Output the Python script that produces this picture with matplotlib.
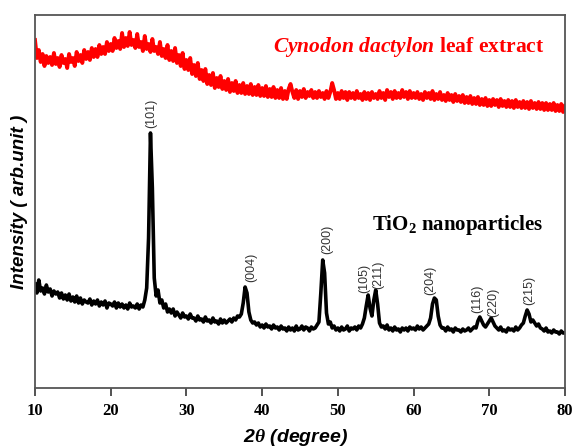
import numpy as np
import matplotlib
matplotlib.use("Agg")
import matplotlib.pyplot as plt

plt.rcParams['mathtext.fontset'] = 'custom'
plt.rcParams['mathtext.rm'] = 'Liberation Serif'
plt.rcParams['mathtext.it'] = 'Liberation Serif:italic:bold'
plt.rcParams['mathtext.bf'] = 'Liberation Serif:bold'

# 2-theta grid, 10..80 deg in 0.25 deg steps
two_theta = np.arange(10.0, 80.0001, 0.25)

# TiO2 nanoparticles (black) intensity, arb. units
tio2 = [
    104, 95, 108, 97,   100, 94, 103, 96,   99, 92, 97, 94,   96, 90, 95, 89,
    93, 88, 94, 87,     91, 86, 92, 85,     90, 84, 88, 86,   85, 89, 83, 87,
    84, 88, 82, 86,     83, 87, 80, 85,     84, 82, 86, 80,   85, 81, 84, 80,
    83, 79, 85, 81,     82, 80, 84, 79,     83, 81, 88, 100,  150, 255, 200, 110,
    92, 98, 85, 88,     80, 84, 76, 79,     75, 79, 72, 76,   73, 70, 75, 71,
    72, 69, 74, 70,     70, 67, 72, 68,     69, 66, 71, 67,   68, 65, 70, 66,
    67, 64, 69, 65,     68, 65, 67, 69,     66, 70, 68, 72,   71, 74, 85, 101,
    95, 76, 68, 65,     66, 63, 65, 61,     63, 60, 64, 61,   62, 59, 63, 60,
    61, 58, 62, 59,     60, 57, 61, 58,     60, 57, 62, 58,   59, 62, 58, 61,
    60, 57, 61, 59,     60, 63, 66, 95,     128, 115, 75, 64, 66, 60, 62, 58,
    60, 57, 61, 58,     59, 62, 57, 60,     59, 61, 58, 62,   60, 64, 70, 82,
    93, 80, 72, 88,     98, 84, 65, 61,     62, 59, 63, 58,   60, 57, 61, 58,
    59, 56, 60, 58,     60, 57, 61, 59,     60, 58, 62, 59,   61, 58, 60, 62,
    64, 70, 84, 90,     88, 72, 63, 60,     60, 57, 61, 58,   59, 56, 60, 58,
    58, 56, 59, 57,     58, 60, 57, 59,     61, 60, 67, 71,   67, 63, 61, 64,
    67, 70, 66, 62,     60, 58, 61, 57,     58, 56, 60, 58,   59, 57, 61, 58,
    60, 63, 65, 72,     78, 74, 66, 68,     65, 62, 64, 60,   59, 57, 60, 56,
    57, 55, 58, 56,     56, 54, 57, 55,     55,
]

# Cynodon dactylon leaf extract (red) intensity, arb. units
extract = [
    348, 330, 338, 326,  334, 322, 332, 325,  331, 323, 335, 324,  330, 321, 333, 325,
    329, 320, 334, 326,  330, 322, 336, 327,  333, 325, 338, 329,  336, 328, 340, 331,
    339, 331, 343, 334,  341, 334, 346, 337,  344, 337, 350, 340,  347, 339, 355, 341,
    350, 342, 356, 343,  348, 340, 354, 341,  346, 337, 352, 339,  344, 336, 349, 337,
    341, 334, 346, 332,  339, 330, 343, 328,  337, 327, 340, 325,  333, 322, 335, 319,
    328, 318, 330, 314,  323, 312, 325, 309,  318, 307, 319, 304,  313, 303, 315, 300,
    310, 301, 312, 299,  307, 298, 309, 296,  305, 297, 307, 295,  303, 295, 305, 294,
    302, 294, 304, 293,  301, 293, 303, 292,  300, 292, 302, 291,  299, 291, 301, 290,
    298, 290, 300, 289,  297, 289, 299, 304,  296, 290, 298, 289,  297, 291, 299, 290,
    296, 292, 298, 290,  296, 290, 297, 291,  295, 289, 297, 290,  296, 305, 298, 289,
    295, 289, 297, 290,  296, 288, 296, 290,  295, 289, 297, 290,  294, 288, 296, 289,
    295, 288, 296, 290,  294, 289, 297, 290,  295, 288, 298, 291,  296, 289, 297, 290,
    295, 290, 298, 291,  296, 289, 297, 290,  295, 290, 296, 289,  294, 288, 296, 290,
    295, 289, 297, 288,  294, 289, 296, 288,  293, 287, 295, 288,  293, 286, 294, 287,
    292, 286, 293, 285,  291, 285, 292, 284,  290, 284, 291, 283,  289, 283, 290, 282,
    288, 282, 289, 283,  288, 281, 289, 282,  287, 281, 288, 281,  287, 280, 288, 281,
    286, 280, 287, 280,  286, 279, 287, 280,  285, 279, 286, 279,  285, 278, 285, 278,
    284, 278, 285, 277,  283, 277, 284, 276,  282,
]

# Peak (hkl) labels: position and label base height
peak_labels = ["(101)", "(004)", "(200)", "(105)", "(211)", "(204)", "(116)", "(220)", "(215)"]
peak_x = [25.3, 38.6, 48.6, 53.5, 55.4, 62.2, 68.4, 70.5, 75.3]
peak_y = [260, 106, 134, 95, 99, 93, 75, 71, 83]

x_ticks = [10, 20, 30, 40, 50, 60, 70, 80]

fig = plt.figure(figsize=(5.76, 4.48), dpi=100)
ax = fig.add_axes([35/576, 1-388/448, 530/576, 373/448])

ax.plot(two_theta, extract, color='#ff0000', lw=2.8, solid_joinstyle='round')
ax.plot(two_theta, tio2, color='black', lw=2.6, solid_joinstyle='round')

for lab, px, py in zip(peak_labels, peak_x, peak_y):
    ax.text(px, py, lab, rotation=90, ha='center', va='bottom',
            fontsize=9, color='#333333', family='Liberation Sans')

ax.text(41.4, 341, r"$\mathit{Cynodon\ dactylon}$ leaf extract", color='#ff0000',
        fontsize=15.5, family='Liberation Serif', fontweight='bold', ha='left', va='center')
ax.text(54.5, 163, r"TiO$_\mathbf{2}$ nanoparticles", color='black',
        fontsize=15, family='Liberation Serif', fontweight='bold', ha='left', va='center')

ax.set_xlim(10, 80)
ax.set_ylim(0, 373)
ax.set_xticks(x_ticks)
ax.set_xticklabels([str(t) for t in x_ticks], family='Liberation Serif',
                   fontweight='bold', fontsize=12)
ax.set_yticks([])
ax.tick_params(axis='x', direction='out', length=6, width=1.3, pad=5, color='#444444')
for s in ax.spines.values():
    s.set_color('#555555')
    s.set_linewidth(1.3)

fig.text(20/576, 1-202/448, "Intensity ( arb.unit )", rotation=90, ha='center', va='center',
         fontsize=13.5, style='italic', fontweight='bold', family='Liberation Sans')
fig.text(296/576, 1-437/448, r"2$\theta$ (degree)", ha='center', va='center',
         fontsize=14, family='Liberation Sans', fontweight='bold', style='italic')

fig.savefig("out.png", dpi=100)
